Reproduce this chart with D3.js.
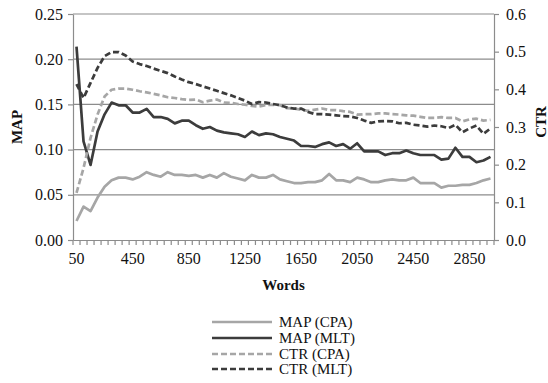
<!DOCTYPE html>
<html>
<head>
<meta charset="utf-8">
<script src="https://cdn.jsdelivr.net/npm/d3@7"></script>
<style>
  html, body { margin: 0; padding: 0; background: #fff; }
  svg { display: block; }
  text { font-family: "Liberation Serif", "Times New Roman", serif; fill: #111; }
</style>
</head>
<body>
<svg id="chart" width="548" height="383"></svg>
<script>
// Document length in words (one category per 50 words)
const words = [50,100,150,200,250,300,350,400,450,500,550,600,650,700,750,800,850,900,950,1000,
  1050,1100,1150,1200,1250,1300,1350,1400,1450,1500,1550,1600,1650,1700,1750,1800,1850,1900,1950,2000,
  2050,2100,2150,2200,2250,2300,2350,2400,2450,2500,2550,2600,2650,2700,2750,2800,2850,2900,2950,3000];

const xTickLabels = [50,450,850,1250,1650,2050,2450,2850];
const mapTicks = [0,0.05,0.10,0.15,0.20,0.25];
const ctrTicks = [0,0.1,0.2,0.3,0.4,0.5,0.6];

const mapCPA = [0.021,0.037,0.032,0.047,0.059,0.066,0.069,0.069,0.067,0.070,0.075,0.072,0.070,0.075,0.072,
  0.072,0.071,0.072,0.069,0.072,0.069,0.074,0.070,0.068,0.066,0.072,0.069,0.069,0.072,0.067,
  0.065,0.063,0.063,0.064,0.064,0.066,0.073,0.066,0.066,0.064,0.069,0.067,0.064,0.064,0.066,
  0.067,0.066,0.066,0.069,0.063,0.063,0.063,0.058,0.060,0.060,0.061,0.061,0.063,0.066,0.068];

const mapMLT = [0.214,0.109,0.083,0.120,0.139,0.152,0.149,0.149,0.141,0.141,0.145,0.136,0.136,0.134,0.129,
  0.132,0.132,0.127,0.123,0.125,0.121,0.119,0.118,0.117,0.114,0.120,0.116,0.118,0.117,0.114,
  0.112,0.110,0.104,0.104,0.103,0.106,0.108,0.104,0.106,0.101,0.107,0.098,0.098,0.098,0.094,
  0.096,0.096,0.099,0.096,0.094,0.094,0.094,0.089,0.090,0.102,0.092,0.092,0.086,0.088,0.092];

const ctrCPA = [0.125,0.191,0.271,0.333,0.381,0.399,0.402,0.402,0.399,0.395,0.392,0.388,0.384,0.379,0.377,
  0.374,0.372,0.373,0.366,0.370,0.373,0.365,0.364,0.361,0.359,0.356,0.354,0.358,0.359,0.358,
  0.350,0.349,0.346,0.343,0.346,0.349,0.345,0.345,0.342,0.340,0.333,0.334,0.334,0.336,0.336,
  0.334,0.333,0.331,0.330,0.327,0.324,0.324,0.326,0.324,0.324,0.315,0.320,0.322,0.317,0.319];

const ctrMLT = [0.414,0.377,0.417,0.457,0.488,0.499,0.499,0.490,0.474,0.467,0.462,0.455,0.449,0.443,0.434,
  0.426,0.419,0.414,0.408,0.402,0.396,0.390,0.384,0.377,0.370,0.361,0.366,0.365,0.361,0.358,
  0.352,0.349,0.349,0.340,0.334,0.334,0.333,0.331,0.329,0.328,0.324,0.317,0.311,0.315,0.316,
  0.315,0.310,0.311,0.306,0.304,0.301,0.304,0.302,0.297,0.306,0.286,0.296,0.304,0.282,0.296];

const series = [
  { name: "MAP (CPA)", values: mapCPA, axis: "map", color: "#a6a6a6", dash: null },
  { name: "MAP (MLT)", values: mapMLT, axis: "map", color: "#3c3c3c", dash: null },
  { name: "CTR (CPA)", values: ctrCPA, axis: "ctr", color: "#a6a6a6", dash: "6,3" },
  { name: "CTR (MLT)", values: ctrMLT, axis: "ctr", color: "#3c3c3c", dash: "6,3" }
];

const plotLeft = 73, plotRight = 494, plotTop = 14, plotBottom = 240;
const gridColor = "#8c8c8c";
const svg = d3.select("#chart");

const x = d3.scaleBand().domain(words).range([plotLeft, plotRight]).padding(0);
const yMap = d3.scaleLinear().domain([0, 0.25]).range([plotBottom, plotTop]);
const yCtr = d3.scaleLinear().domain([0, 0.6]).range([plotBottom, plotTop]);
const cx = d => x(d) + x.bandwidth() / 2;

// horizontal gridlines on the MAP scale
svg.append("g").selectAll("line")
  .data(mapTicks.filter(t => t > 0))
  .join("line")
  .attr("x1", plotLeft).attr("x2", plotRight)
  .attr("y1", d => yMap(d)).attr("y2", d => yMap(d))
  .attr("stroke", gridColor).attr("stroke-width", 1.2);

// left axis (MAP)
const gLeft = svg.append("g").attr("transform", `translate(${plotLeft},0)`)
  .call(d3.axisLeft(yMap).tickValues(mapTicks).tickFormat(d3.format(".2f")).tickSize(5).tickSizeOuter(0));
// right axis (CTR)
const gRight = svg.append("g").attr("transform", `translate(${plotRight},0)`)
  .call(d3.axisRight(yCtr).tickValues(ctrTicks).tickFormat(d3.format(".1f")).tickSize(5).tickSizeOuter(0));
// bottom axis (Words): labels on selected categories
const gBottom = svg.append("g").attr("transform", `translate(0,${plotBottom})`)
  .call(d3.axisBottom(x).tickValues(xTickLabels).tickSize(0).tickPadding(13).tickSizeOuter(0));

[gLeft, gRight, gBottom].forEach(g => {
  g.select(".domain").attr("stroke", gridColor).attr("stroke-width", 1.2);
  g.selectAll(".tick line").attr("stroke", gridColor).attr("stroke-width", 1.2);
  g.selectAll(".tick text").attr("font-family", "Liberation Serif").attr("font-size", 16).attr("fill", "#111");
});
gLeft.selectAll(".tick text").attr("x", -10);
gRight.selectAll(".tick text").attr("x", 12);

// category boundary tick marks on the bottom axis
svg.append("g").selectAll("line")
  .data(d3.range(words.length + 1))
  .join("line")
  .attr("x1", i => plotLeft + i * x.bandwidth()).attr("x2", i => plotLeft + i * x.bandwidth())
  .attr("y1", plotBottom).attr("y2", plotBottom + 5)
  .attr("stroke", gridColor).attr("stroke-width", 1.2);

// series lines
series.forEach(s => {
  const y = s.axis === "map" ? yMap : yCtr;
  const line = d3.line().x((d, i) => cx(words[i])).y(d => y(d));
  svg.append("path")
    .datum(s.values)
    .attr("d", line)
    .attr("fill", "none")
    .attr("stroke", s.color)
    .attr("stroke-width", 2.7)
    .attr("stroke-linejoin", "round")
    .attr("stroke-dasharray", s.dash);
});

// axis titles
svg.append("text").text("Words")
  .attr("x", (plotLeft + plotRight) / 2).attr("y", 290)
  .attr("text-anchor", "middle").attr("font-weight", "bold").attr("font-size", 15);
svg.append("text").text("MAP")
  .attr("transform", `translate(22,${(plotTop + plotBottom) / 2}) rotate(-90)`)
  .attr("text-anchor", "middle").attr("font-weight", "bold").attr("font-size", 15);
svg.append("text").text("CTR")
  .attr("transform", `translate(546,122) rotate(-90)`)
  .attr("text-anchor", "middle").attr("font-weight", "bold").attr("font-size", 15);

// legend
const legend = svg.append("g");
const rows = [322, 338, 354, 369];
series.forEach((s, i) => {
  legend.append("line")
    .attr("x1", 212).attr("x2", 272)
    .attr("y1", rows[i]).attr("y2", rows[i])
    .attr("stroke", s.color).attr("stroke-width", 2.7)
    .attr("stroke-dasharray", s.dash);
  legend.append("text").text(s.name)
    .attr("x", 279).attr("y", rows[i] + 5)
    .attr("font-size", 15);
});
</script>
</body>
</html>
